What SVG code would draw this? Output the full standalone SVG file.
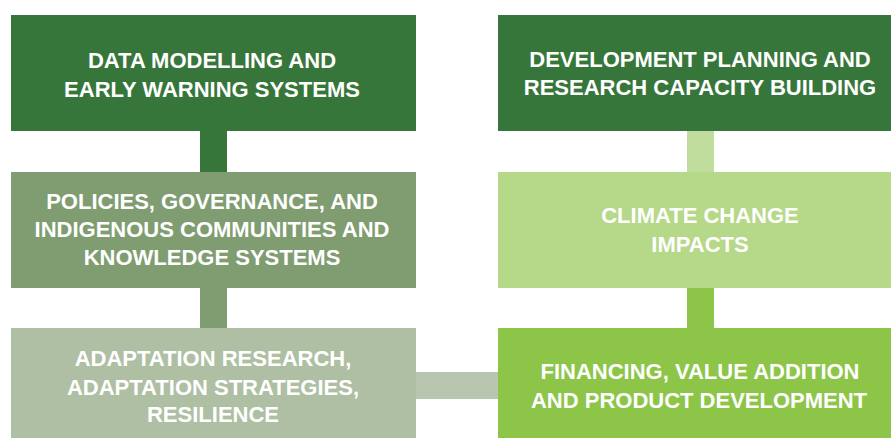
<svg xmlns="http://www.w3.org/2000/svg" width="891" height="438" viewBox="0 0 891 438">
  <style>
    .label { font-family: "Liberation Sans", Arial, sans-serif; font-weight: bold; font-size: 22px; fill: #ffffff; text-anchor: middle; }
  </style>
  <rect width="891" height="438" fill="#ffffff"/>

  <!-- connectors between the boxes -->
  <g id="connectors">
    <rect x="200" y="130" width="27" height="43" fill="#37763b"/>
    <rect x="200" y="287" width="27" height="42" fill="#7f9d71"/>
    <rect x="415" y="372" width="84" height="27" fill="#b8c6b0"/>
    <rect x="687" y="130" width="27" height="43" fill="#c0dd9d"/>
    <rect x="687" y="287" width="27" height="42" fill="#8dc549"/>
  </g>

  <g id="data-modelling">
    <rect x="11" y="15" width="405" height="116" fill="#37763b"/>
    <text class="label" x="212" y="68">DATA MODELLING AND</text>
    <text class="label" x="212" y="97">EARLY WARNING SYSTEMS</text>
  </g>

  <g id="policies-governance">
    <rect x="11" y="172" width="405" height="116" fill="#7f9d71"/>
    <text class="label" x="212" y="209">POLICIES, GOVERNANCE, AND</text>
    <text class="label" x="212" y="237">INDIGENOUS COMMUNITIES AND</text>
    <text class="label" x="212" y="265">KNOWLEDGE SYSTEMS</text>
  </g>

  <g id="adaptation-research">
    <rect x="11" y="328" width="405" height="110" fill="#aebfa3"/>
    <text class="label" x="213" y="366">ADAPTATION RESEARCH,</text>
    <text class="label" x="213" y="395">ADAPTATION STRATEGIES,</text>
    <text class="label" x="213" y="422">RESILIENCE</text>
  </g>

  <g id="development-planning">
    <rect x="498" y="15" width="393" height="116" fill="#37763b"/>
    <text class="label" x="700" y="67">DEVELOPMENT PLANNING AND</text>
    <text class="label" x="700" y="95">RESEARCH CAPACITY BUILDING</text>
  </g>

  <g id="climate-change">
    <rect x="498" y="172" width="393" height="116" fill="#b5d889"/>
    <text class="label" x="700" y="223">CLIMATE CHANGE</text>
    <text class="label" x="700" y="252">IMPACTS</text>
  </g>

  <g id="financing">
    <rect x="498" y="328" width="393" height="110" fill="#8dc549"/>
    <text class="label" x="700" y="379">FINANCING, VALUE ADDITION</text>
    <text class="label" x="699" y="408">AND PRODUCT DEVELOPMENT</text>
  </g>
</svg>
